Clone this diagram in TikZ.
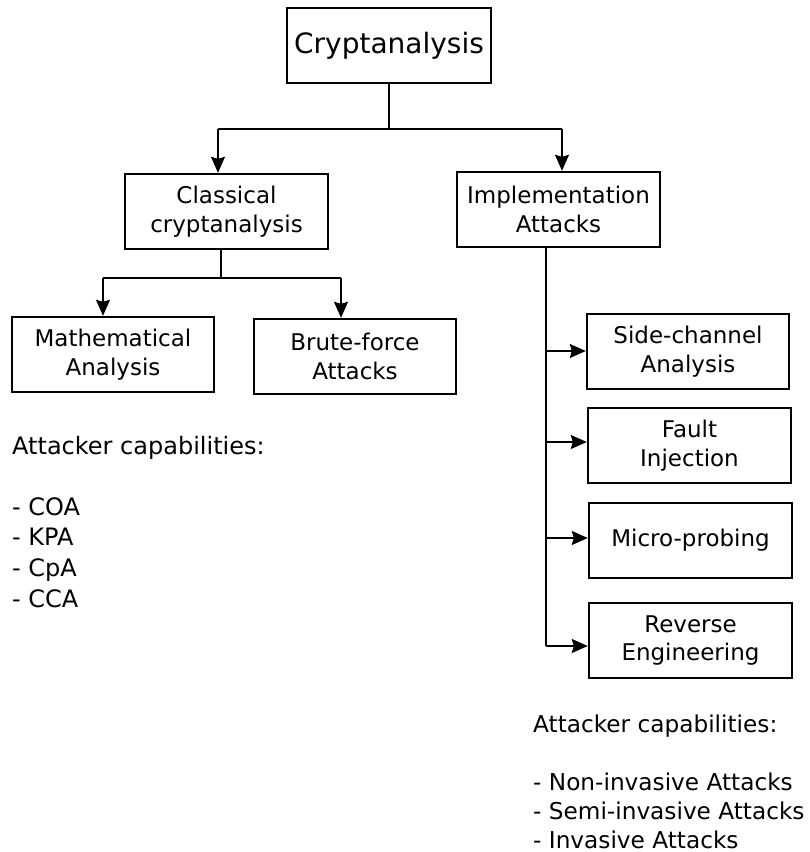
\documentclass[tikz,border=0pt]{standalone}
\usepackage{fontspec}
\setmainfont{DejaVu Sans}
\usetikzlibrary{arrows.meta}
\begin{document}
\begin{tikzpicture}[x=1pt,y=-1pt,
  box/.style={draw=black,line width=2.4pt,minimum width=203pt,minimum height=75pt,
    inner sep=0pt,align=center,font=\fontsize{23}{28.5}\selectfont},
  link/.style={draw=black,line width=1.3pt},
  arr/.style={link,-{Stealth[length=16pt,width=14pt,inset=2pt]}},
  note/.style={anchor=base west,inner sep=0pt,align=left}]
\useasboundingbox (0,0) rectangle (810,852);

% boxes
\node[box,minimum width=204pt,font=\fontsize{28}{33}\selectfont] (top) at (389,45.5) {Cryptanalysis};
\node[box] (cls) at (226.5,211.5) {Classical\\cryptanalysis};
\node[box] (impl) at (558.5,209.5) {Implementation\\Attacks};
\node[box,minimum width=202pt] (math) at (113,354.5) {Mathematical\\Analysis};
\node[box,minimum width=202pt] (brute) at (355,356.5) {Brute-force\\Attacks};
\node[box,minimum width=202pt] (sca) at (688,351.5) {Side-channel\\Analysis};
\node[box] (fault) at (689.5,445.5) {Fault\\Injection};
\node[box] (micro) at (690.5,540.5) {Micro-probing};
\node[box] (rev) at (690.5,640.5) {Reverse\\Engineering};

% junction points
\coordinate (j1) at (389,129);
\coordinate (j1l) at (218,129);
\coordinate (j1r) at (562,129);
\coordinate (j2) at (221,278);
\coordinate (j2l) at (103,278);
\coordinate (j2r) at (341,278);
\coordinate (sp0) at (546,247);
\coordinate (s1) at (546,351);
\coordinate (s2) at (546,442);
\coordinate (s3) at (546,538);
\coordinate (s4) at (546,646);

% top level split
\draw[link] (top.south) -- (j1);
\draw[link] (j1l) -- (j1r);
\draw[arr] (j1l) -- (j1l |- cls.north);
\draw[arr] (j1r) -- (j1r |- impl.north);

% classical split
\draw[link] (j2 |- cls.south) -- (j2);
\draw[link] (j2l) -- (j2r);
\draw[arr] (j2l) -- (j2l |- math.north);
\draw[arr] (j2r) -- (j2r |- brute.north);

% implementation spine
\draw[link] (sp0) -- (s4);
\draw[arr] (s1) -- (s1 -| sca.west);
\draw[arr] (s2) -- (s2 -| fault.west);
\draw[arr] (s3) -- (s3 -| micro.west);
\draw[arr] (s4) -- (s4 -| rev.west);

% capability notes (anchored at the baseline of their last line)
\node[note,font=\fontsize{24}{30.6}\selectfont] (capl) at (12,607)
  {Attacker capabilities:\\[30.6pt]- COA\\- KPA\\- CpA\\- CCA};
\node[note,font=\fontsize{23.2}{29}\selectfont] (capr) at (533,848)
  {Attacker capabilities:\\[29pt]- Non-invasive Attacks\\- Semi-invasive Attacks\\- Invasive Attacks};
\end{tikzpicture}
\end{document}
